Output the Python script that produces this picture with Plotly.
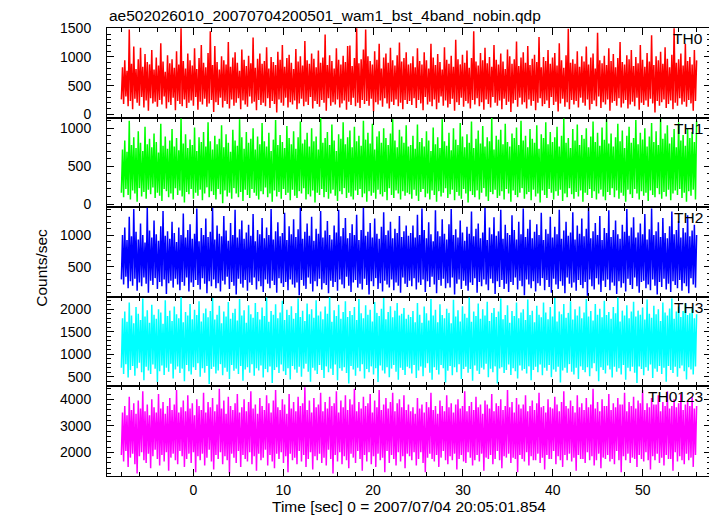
import numpy as np
import plotly.graph_objects as go
from plotly.subplots import make_subplots

TITLE = "ae502026010_20070704200501_wam1_bst_4band_nobin.qdp"
X_TITLE = "Time [sec] 0 = 2007/07/04 20:05:01.854"
Y_TITLE = "Counts/sec"
T_START, T_END = -8.0, 56.0
BANDS = ["TH0", "TH1", "TH2", "TH3", "TH0123"]

# count rates (counts/sec); first half (-8..24 s) and second half (24..56 s)
TH0_A = [260,820,180,940,310,760,140,1480,230,880,90,1180,270,790,200,960,
         150,1160,300,830,120,1050,240,910,60,870,280,1120,190,780,220,990,
         130,850,250,1240,170,920,310,740,100,1030,210,890,160,960,290,810,
         70,1100,230,870,180,1500,140,930,260,800,110,1060,200,940,240,850,
         150,1150,300,790,80,980,220,1210,170,900,270,820,130,1070,190,1450,
         250,860,40,1190,210,910,160,780,290,1010,120,940,230,870,180,1260,
         100,830,260,990,150,1080,200,900,280,760,90,1130,240,950,170,840,
         130,1020,310,890,190,1340,220,810,70,970,250,1060,160,880,200,930,
         140,1170,280,800,110,1000,230,910,180,860,30,1090,260,950,200,1210,
         150,830,290,980,120,1040,210,900,170,790,240,1140,90,920,190,1010,
         270,850,140,1280,220,940,160,880,300,1060,100,970,230,820,180,1110,
         130,900,250,990,200,1390,60,860,280,1030,150,930,210,800,170,1150,
         260,950,120,870,190,1020,240,910,80,1190,220,1200,160,840,290,980,
         140,1500,200,890,110,960,250,1130,180,1480,230,1010,150,930,270,870,
         50,1100,210,950,170,1230,240,800,130,990,280,1060,190,900,100,1160,
         220,940,160,850,260,1030,140,1250,200,920,90,980,250,1080,180,870]
TH0_B = [230,890,160,1010,280,820,110,1150,250,930,190,870,70,1080,300,940,
         170,800,220,1230,140,990,260,860,90,1050,200,910,310,780,150,1170,
         240,950,120,880,180,1020,270,830,60,1300,210,960,160,870,290,1040,
         130,900,230,1110,190,810,100,980,250,1450,170,920,280,850,140,1070,
         210,940,80,1160,260,890,180,1000,120,830,300,1210,200,950,150,870,
         240,1060,90,920,270,790,160,1130,220,1010,40,880,190,960,250,1270,
         130,840,290,990,170,1080,210,900,100,1190,260,860,150,970,230,1040,
         70,910,200,1350,280,820,140,1000,180,930,240,1120,110,880,300,990,
         160,1070,220,850,50,1240,190,940,270,810,130,1030,210,1490,90,900,
         250,960,170,880,230,1100,120,830,290,1010,200,920,150,1180,260,870,
         80,990,180,1060,240,800,140,1420,310,940,110,890,210,1020,170,860,
         260,1150,60,930,200,1050,230,820,150,980,280,1260,120,910,190,870,
         250,1030,100,960,170,1120,220,840,140,1000,290,890,80,1210,200,950,
         160,830,240,1070,130,920,270,1380,190,860,30,1010,230,940,150,1090,
         210,880,260,1170,110,970,180,820,240,1040,90,1500,200,900,150,960,
         280,1060,170,850,220,1230,130,930,250,1000,190,870,60,1120,230,940]

TH1_A = [150,720,90,840,200,690,120,1100,60,780,180,880,140,740,30,960,
         210,810,100,700,160,1020,70,790,190,860,130,750,220,930,80,820,
         150,680,110,1060,40,770,200,890,170,730,90,840,140,990,60,760,
         210,870,120,710,180,1130,100,800,20,920,160,740,130,850,200,780,
         70,1010,150,700,110,880,190,820,50,950,140,760,220,1080,90,830,
         170,720,120,900,60,790,200,860,130,1040,10,750,180,920,100,810,
         150,690,70,980,210,840,140,770,90,1120,160,880,40,730,190,950,
         120,810,80,860,200,1000,150,720,110,890,60,790,170,1070,130,830,
         220,760,90,940,140,700,30,850,180,1110,100,780,160,910,70,820,
         200,740,120,1030,150,870,50,790,190,960,110,730,80,880,170,1090,
         140,800,210,850,60,940,130,760,100,1000,180,830,20,890,150,720,
         120,1140,200,810,90,870,160,950,70,780,140,1050,190,840,110,700,
         40,920,170,860,130,1080,210,790,80,880,150,970,100,750,60,1020,
         180,830,120,900,200,770,90,1100,140,850,30,940,170,800,110,1060,
         150,720,70,890,190,960,130,810,100,1000,160,870,50,780,210,930,
         120,1120,80,840,180,750,140,980,60,890,170,810,110,1040,150,760]
TH1_B = [130,780,70,900,190,730,110,1050,40,820,160,870,200,760,90,960,
         140,840,60,700,180,1010,120,790,30,880,170,740,100,1120,150,830,
         210,770,80,940,130,710,190,1000,50,850,160,780,110,1070,70,890,
         200,750,140,920,20,810,170,1090,120,740,90,860,180,970,60,800,
         150,1030,210,760,100,880,40,830,160,1140,130,720,190,900,80,850,
         110,980,170,790,60,1060,200,820,140,760,30,930,180,870,120,1010,
         90,780,150,1100,210,840,70,900,130,750,160,990,50,860,190,810,
         100,1040,140,730,20,920,180,870,120,1080,80,790,200,950,150,820,
         60,880,170,1020,110,760,190,900,40,1130,140,810,90,870,210,740,
         130,990,70,840,160,1050,100,780,180,910,30,860,150,1000,120,750,
         200,890,80,1090,170,820,60,940,140,770,190,1010,100,850,50,1120,
         160,800,120,930,210,760,90,880,180,1060,70,830,150,970,110,740,
         30,900,190,1020,130,810,80,870,200,1110,140,790,60,940,170,850,
         110,1000,150,760,40,890,180,1070,120,820,90,960,210,780,130,1130,
         70,860,160,930,100,1040,190,800,50,880,140,990,180,750,120,1080,
         200,840,80,910,150,770,30,1000,170,870,110,950,190,820,60,1100]

TH2_A = [300,1000,220,1120,340,920,160,1290,270,980,200,1410,310,1050,120,930,
         250,1180,190,1000,330,880,230,1430,90,1070,280,960,210,1230,320,1010,
         150,910,260,1140,190,1380,300,990,70,1060,240,940,280,1210,170,1030,
         310,890,220,1120,130,1000,260,1340,200,960,330,1080,110,1170,250,940,
         180,1020,290,1420,210,900,140,1110,320,1000,230,1260,80,970,270,1050,
         190,1430,300,930,160,1150,240,1020,110,980,280,1300,220,1070,340,910,
         150,1190,260,1000,200,1400,60,960,310,1090,230,1230,170,940,290,1040,
         120,1160,250,990,210,1330,330,900,140,1080,270,1010,190,1270,100,950,
         300,1120,230,1000,160,1410,280,930,210,1060,90,1200,320,980,240,1030,
         180,1350,260,920,130,1140,300,1010,220,1250,170,970,250,1090,50,1430,
         290,940,200,1050,150,1180,330,990,230,1290,110,910,270,1100,190,1020,
         310,1380,140,960,240,1070,210,1220,80,1000,280,930,180,1150,260,1040,
         120,1400,300,980,220,1110,160,1270,340,950,200,1030,100,1170,250,1000,
         290,1320,170,920,230,1080,140,1430,310,990,210,1050,60,1190,270,960,
         190,1260,320,1020,150,940,240,1130,110,1360,280,1000,220,1070,170,1210,
         300,950,130,1100,250,1030,200,1300,90,970,330,1060,230,1150,180,990]
TH2_B = [280,1030,190,1150,320,960,140,1320,250,1000,210,1420,300,1080,100,950,
         270,1200,180,1010,340,900,220,1390,80,1060,290,980,200,1250,310,1020,
         160,930,240,1170,170,1410,330,1000,60,1090,230,960,300,1230,150,1040,
         280,910,200,1130,120,1020,250,1370,210,980,320,1100,90,1180,260,950,
         190,1040,300,1430,220,920,130,1120,310,1010,240,1280,70,990,270,1060,
         180,1400,290,940,150,1160,230,1030,100,1000,260,1310,210,1080,330,930,
         140,1210,280,1010,190,1420,50,970,300,1100,220,1240,160,950,270,1050,
         110,1170,240,1000,200,1350,320,920,130,1090,290,1020,180,1290,90,960,
         310,1130,220,1010,150,1400,270,940,200,1070,80,1210,330,990,230,1040,
         170,1360,250,930,120,1150,290,1020,210,1260,160,980,260,1100,40,1440,
         300,950,190,1060,140,1190,320,1000,220,1300,100,920,280,1110,180,1030,
         300,1390,130,970,250,1080,200,1230,70,1010,270,940,170,1160,240,1050,
         110,1410,310,990,210,1120,150,1280,330,960,190,1040,90,1180,260,1010,
         280,1330,160,930,220,1090,130,1420,300,1000,200,1060,60,1200,260,970,
         180,1270,310,1030,140,950,230,1140,100,1370,270,1010,210,1080,160,1220,
         290,960,120,1110,240,1040,190,1310,80,980,320,1070,220,1160,170,1000]

TH3_A = [700,1800,560,1950,780,1720,480,2150,650,1860,740,1690,520,2050,690,1900,
         810,1760,600,2240,420,1840,720,1980,640,1700,560,2100,770,1880,680,1790,
         380,2000,620,1930,750,1680,540,2200,700,1850,610,1970,790,1740,460,2060,
         660,1890,730,1800,580,2270,680,1710,400,1940,760,1860,620,2120,550,1780,
         710,1990,650,1870,800,2180,500,1730,690,1910,590,2020,740,1820,340,1960,
         670,2250,720,1770,570,1880,640,2080,780,1690,530,1950,700,1840,610,2160,
         450,1790,760,1920,630,2010,680,1750,560,2230,740,1860,410,1980,660,1700,
         710,2090,590,1890,780,1810,520,2140,690,1940,640,1770,750,2040,480,1850,
         670,2260,600,1720,730,1960,360,1880,650,2110,710,1800,580,1930,770,2190,
         620,1760,540,1990,690,1870,440,2070,740,1790,660,1920,590,2240,720,1830,
         500,1970,680,1740,790,2130,610,1890,390,2000,700,1810,640,2200,560,1860,
         760,1950,650,1780,470,2060,730,1900,600,2270,680,1720,540,1980,770,1850,
         420,2100,690,1790,630,1940,710,2180,580,1830,350,1960,740,1870,660,2050,
         520,1760,700,2230,620,1910,780,1800,460,2090,670,1880,600,1990,730,1730,
         550,2160,690,1920,380,1850,750,2010,640,2250,570,1780,710,1940,490,2070,
         680,1820,760,1970,610,2140,430,1860,700,1900,650,2030,540,1790,720,1880]
TH3_B = [690,1830,570,1960,760,1710,470,2140,640,1880,730,1700,510,2060,700,1910,
         800,1750,590,2230,430,1860,710,1990,650,1710,550,2110,760,1870,690,1800,
         370,2010,630,1920,740,1690,530,2210,710,1840,600,1980,780,1730,450,2070,
         670,1900,720,1810,590,2260,670,1720,410,1950,750,1850,630,2130,560,1790,
         700,2000,660,1860,790,2170,490,1740,680,1920,600,2030,730,1830,350,1950,
         680,2240,710,1780,580,1870,650,2090,770,1700,540,1960,690,1850,620,2150,
         460,1800,750,1930,640,2000,670,1760,570,2220,730,1870,420,1970,650,1710,
         720,2080,600,1880,770,1820,530,2150,700,1930,630,1780,760,2050,490,1840,
         660,2250,610,1730,720,1950,370,1890,640,2120,700,1810,590,1920,780,2180,
         610,1770,550,2000,700,1860,450,2060,730,1800,650,1930,600,2230,710,1840,
         510,1960,690,1750,800,2120,620,1880,400,2010,710,1820,650,2190,570,1870,
         750,1940,660,1790,480,2050,720,1910,610,2260,690,1730,550,1970,760,1860,
         430,2090,700,1800,620,1950,720,2170,590,1840,360,1970,730,1880,670,2040,
         530,1770,710,2220,630,1900,770,1810,470,2080,680,1890,610,2000,740,1740,
         560,2150,700,1930,390,1860,740,2020,650,2240,580,1790,720,1950,500,2060,
         690,1830,750,1960,620,2130,440,1870,710,1910,660,2020,550,1800,730,1890]

TH0123_A = [1900,3500,1650,3750,2050,3400,1450,4100,1800,3600,1950,3850,1550,3450,1200,3950,
            1850,3650,2000,4300,1700,3550,1600,3800,1950,3400,1400,4000,1850,3700,2100,3500,
            1750,4200,1500,3650,1900,3900,1650,3450,2000,3750,1300,4050,1800,3600,1950,3800,
            1700,4350,1550,3500,2050,3700,1850,3950,1450,3550,1750,4150,1950,3650,1600,3850,
            2000,3400,1250,4000,1850,3750,1700,3600,1950,4250,1500,3500,1800,3900,2100,3700,
            1650,4050,1350,3550,1900,3800,1750,4400,2000,3650,1550,3950,1850,3450,1700,4100,
            1200,3750,1950,3600,1800,3850,1600,4200,2050,3500,1450,3700,1900,4000,1750,3550,
            1650,3900,2000,4300,1550,3650,1850,3800,1300,3450,1950,4050,1700,3750,1800,3600,
            2100,4150,1500,3850,1900,3500,1650,3950,1400,4350,1950,3700,1750,3600,2000,4000,
            1600,3800,1850,3450,1250,4200,1950,3650,1700,3900,1800,3550,1550,4100,2050,3750,
            1650,3850,1900,4450,1450,3600,1750,3950,2000,3500,1350,4050,1850,3700,1700,3800,
            1950,4250,1600,3550,1800,3900,1500,3650,2100,4100,1750,3750,1200,3850,1900,4300,
            1650,3500,2000,3950,1550,3700,1850,4150,1700,3600,1400,4000,1950,3800,1800,4400,
            1600,3550,2050,3900,1750,3650,1300,4100,1900,3750,1650,3850,2000,4200,1550,3500,
            1850,3950,1450,3700,1950,4350,1700,3600,1800,3800,1250,4050,2050,3650,1600,3900,
            1900,4250,1750,3550,1500,3850,2000,4000,1650,3700,1850,4150,1400,3600,1950,3800]
TH0123_B = [1850,3550,1700,3700,2000,3450,1500,4050,1750,3650,2000,3800,1600,3500,1250,3900,
            1800,3700,1950,4250,1750,3600,1650,3750,1900,3450,1450,3950,1800,3750,2050,3550,
            1700,4150,1550,3700,1850,3850,1700,3500,1950,3800,1350,4000,1750,3650,1900,3750,
            1650,4300,1600,3550,2000,3750,1800,3900,1500,3600,1700,4100,1900,3700,1650,3800,
            1950,3450,1300,3950,1800,3800,1750,3650,1900,4200,1550,3550,1750,3850,2050,3750,
            1700,4000,1400,3600,1850,3750,1800,4350,1950,3700,1600,3900,1800,3500,1750,4050,
            1250,3800,1900,3650,1750,3800,1650,4150,2000,3550,1500,3750,1850,3950,1700,3600,
            1700,3850,1950,4250,1600,3700,1800,3750,1350,3500,1900,4000,1750,3700,1750,3650,
            2050,4100,1550,3800,1850,3550,1700,3900,1450,4300,1900,3750,1700,3650,1950,3950,
            1650,3750,1800,3500,1300,4150,1900,3700,1750,3850,1750,3600,1600,4050,2000,3700,
            1700,3800,1850,4400,1500,3650,1700,3900,1950,3550,1400,4000,1800,3750,1750,3750,
            1900,4200,1650,3600,1750,3850,1550,3700,2050,4050,1700,3800,1250,3800,1850,4250,
            1700,3550,1950,3900,1600,3750,1800,4100,1750,3650,1450,3950,1900,3850,1750,4350,
            1650,3600,2000,3850,1700,3700,1350,4050,1850,3800,1700,3800,1950,4150,1600,3550,
            1800,3900,1500,3750,1900,4300,1750,3650,1750,3750,1300,4000,2000,3700,1650,3850,
            1850,4200,1700,3600,1550,3800,1950,3950,1700,3750,1800,4100,1450,3650,1900,3750]

SERIES = [TH0_A + TH0_B, TH1_A + TH1_B, TH2_A + TH2_B, TH3_A + TH3_B, TH0123_A + TH0123_B]
COLORS = ["#ff0000", "#00ff00", "#0000ff", "#00ffff", "#ff00ff"]
Y_RANGES = [[-58, 1505], [-42, 1141], [25, 1439], [284, 2278], [1106, 4487]]
Y_DTICK = [500, 500, 500, 500, 1000]
Y_MINOR = [100, 100, 100, 100, 200]
X_RANGE = [-9.6, 57.6]

FONT = "Liberation Sans, Arial, Helvetica, sans-serif"

fig = make_subplots(rows=5, cols=1, shared_xaxes=True, vertical_spacing=0)

for i, vals in enumerate(SERIES):
    t = np.linspace(T_START, T_END, len(vals))
    fig.add_trace(go.Scatter(x=t, y=vals, mode="lines",
                             line=dict(color=COLORS[i], width=1.5),
                             showlegend=False, hoverinfo="skip"),
                  row=i + 1, col=1)
    fig.update_yaxes(range=Y_RANGES[i], dtick=Y_DTICK[i], tick0=0,
                     row=i + 1, col=1)
    fig.update_yaxes(minor=dict(dtick=Y_MINOR[i], tick0=0), row=i + 1, col=1)

fig.update_xaxes(range=X_RANGE, dtick=10, tick0=0, ticks="inside", ticklen=7,
                 tickcolor="black", tickwidth=1,
                 minor=dict(ticks="inside", ticklen=4, tickcolor="black", dtick=2, tick0=0),
                 showline=True, linecolor="black", linewidth=1, mirror="allticks",
                 showgrid=False, zeroline=False,
                 tickfont=dict(family=FONT, size=14, color="black"),
                 ticklabelstandoff=1)
fig.update_yaxes(ticks="inside", ticklen=7, tickcolor="black", tickwidth=1,
                 minor=dict(ticks="inside", ticklen=4, tickcolor="black"),
                 showline=True, linecolor="black", linewidth=1, mirror="allticks",
                 showgrid=False, zeroline=False,
                 tickfont=dict(family=FONT, size=14, color="black"),
                 ticklabelstandoff=12)

annotations = []
for i, name in enumerate(BANDS):
    top = 1 - i * 0.2
    annotations.append(dict(text=name, xref="paper", yref="paper", x=0.99, y=top,
                            xanchor="right", yanchor="top", showarrow=False,
                            font=dict(family=FONT, size=15.5, color="black")))
annotations.append(dict(text=TITLE, xref="paper", yref="paper", x=0, y=1.029,
                        xanchor="left", yanchor="middle", showarrow=False,
                        font=dict(family=FONT, size=15.5, color="black")))
annotations.append(dict(text=X_TITLE, xref="paper", yref="paper", x=0.5, y=-0.069,
                        xanchor="center", yanchor="middle", showarrow=False,
                        font=dict(family=FONT, size=15.5, color="black")))
annotations.append(dict(text=Y_TITLE, xref="paper", yref="paper", x=-0.1076, y=0.465,
                        xanchor="center", yanchor="middle", showarrow=False, textangle=-90,
                        font=dict(family=FONT, size=15.5, color="black")))

# the page body has an 8 px margin, so the figure is 8 px smaller than the window
fig.update_layout(width=709, height=508,
                  margin=dict(l=99, r=6, t=20, b=40),
                  paper_bgcolor="white", plot_bgcolor="white",
                  annotations=annotations, showlegend=False)

fig.write_html("out.html")
